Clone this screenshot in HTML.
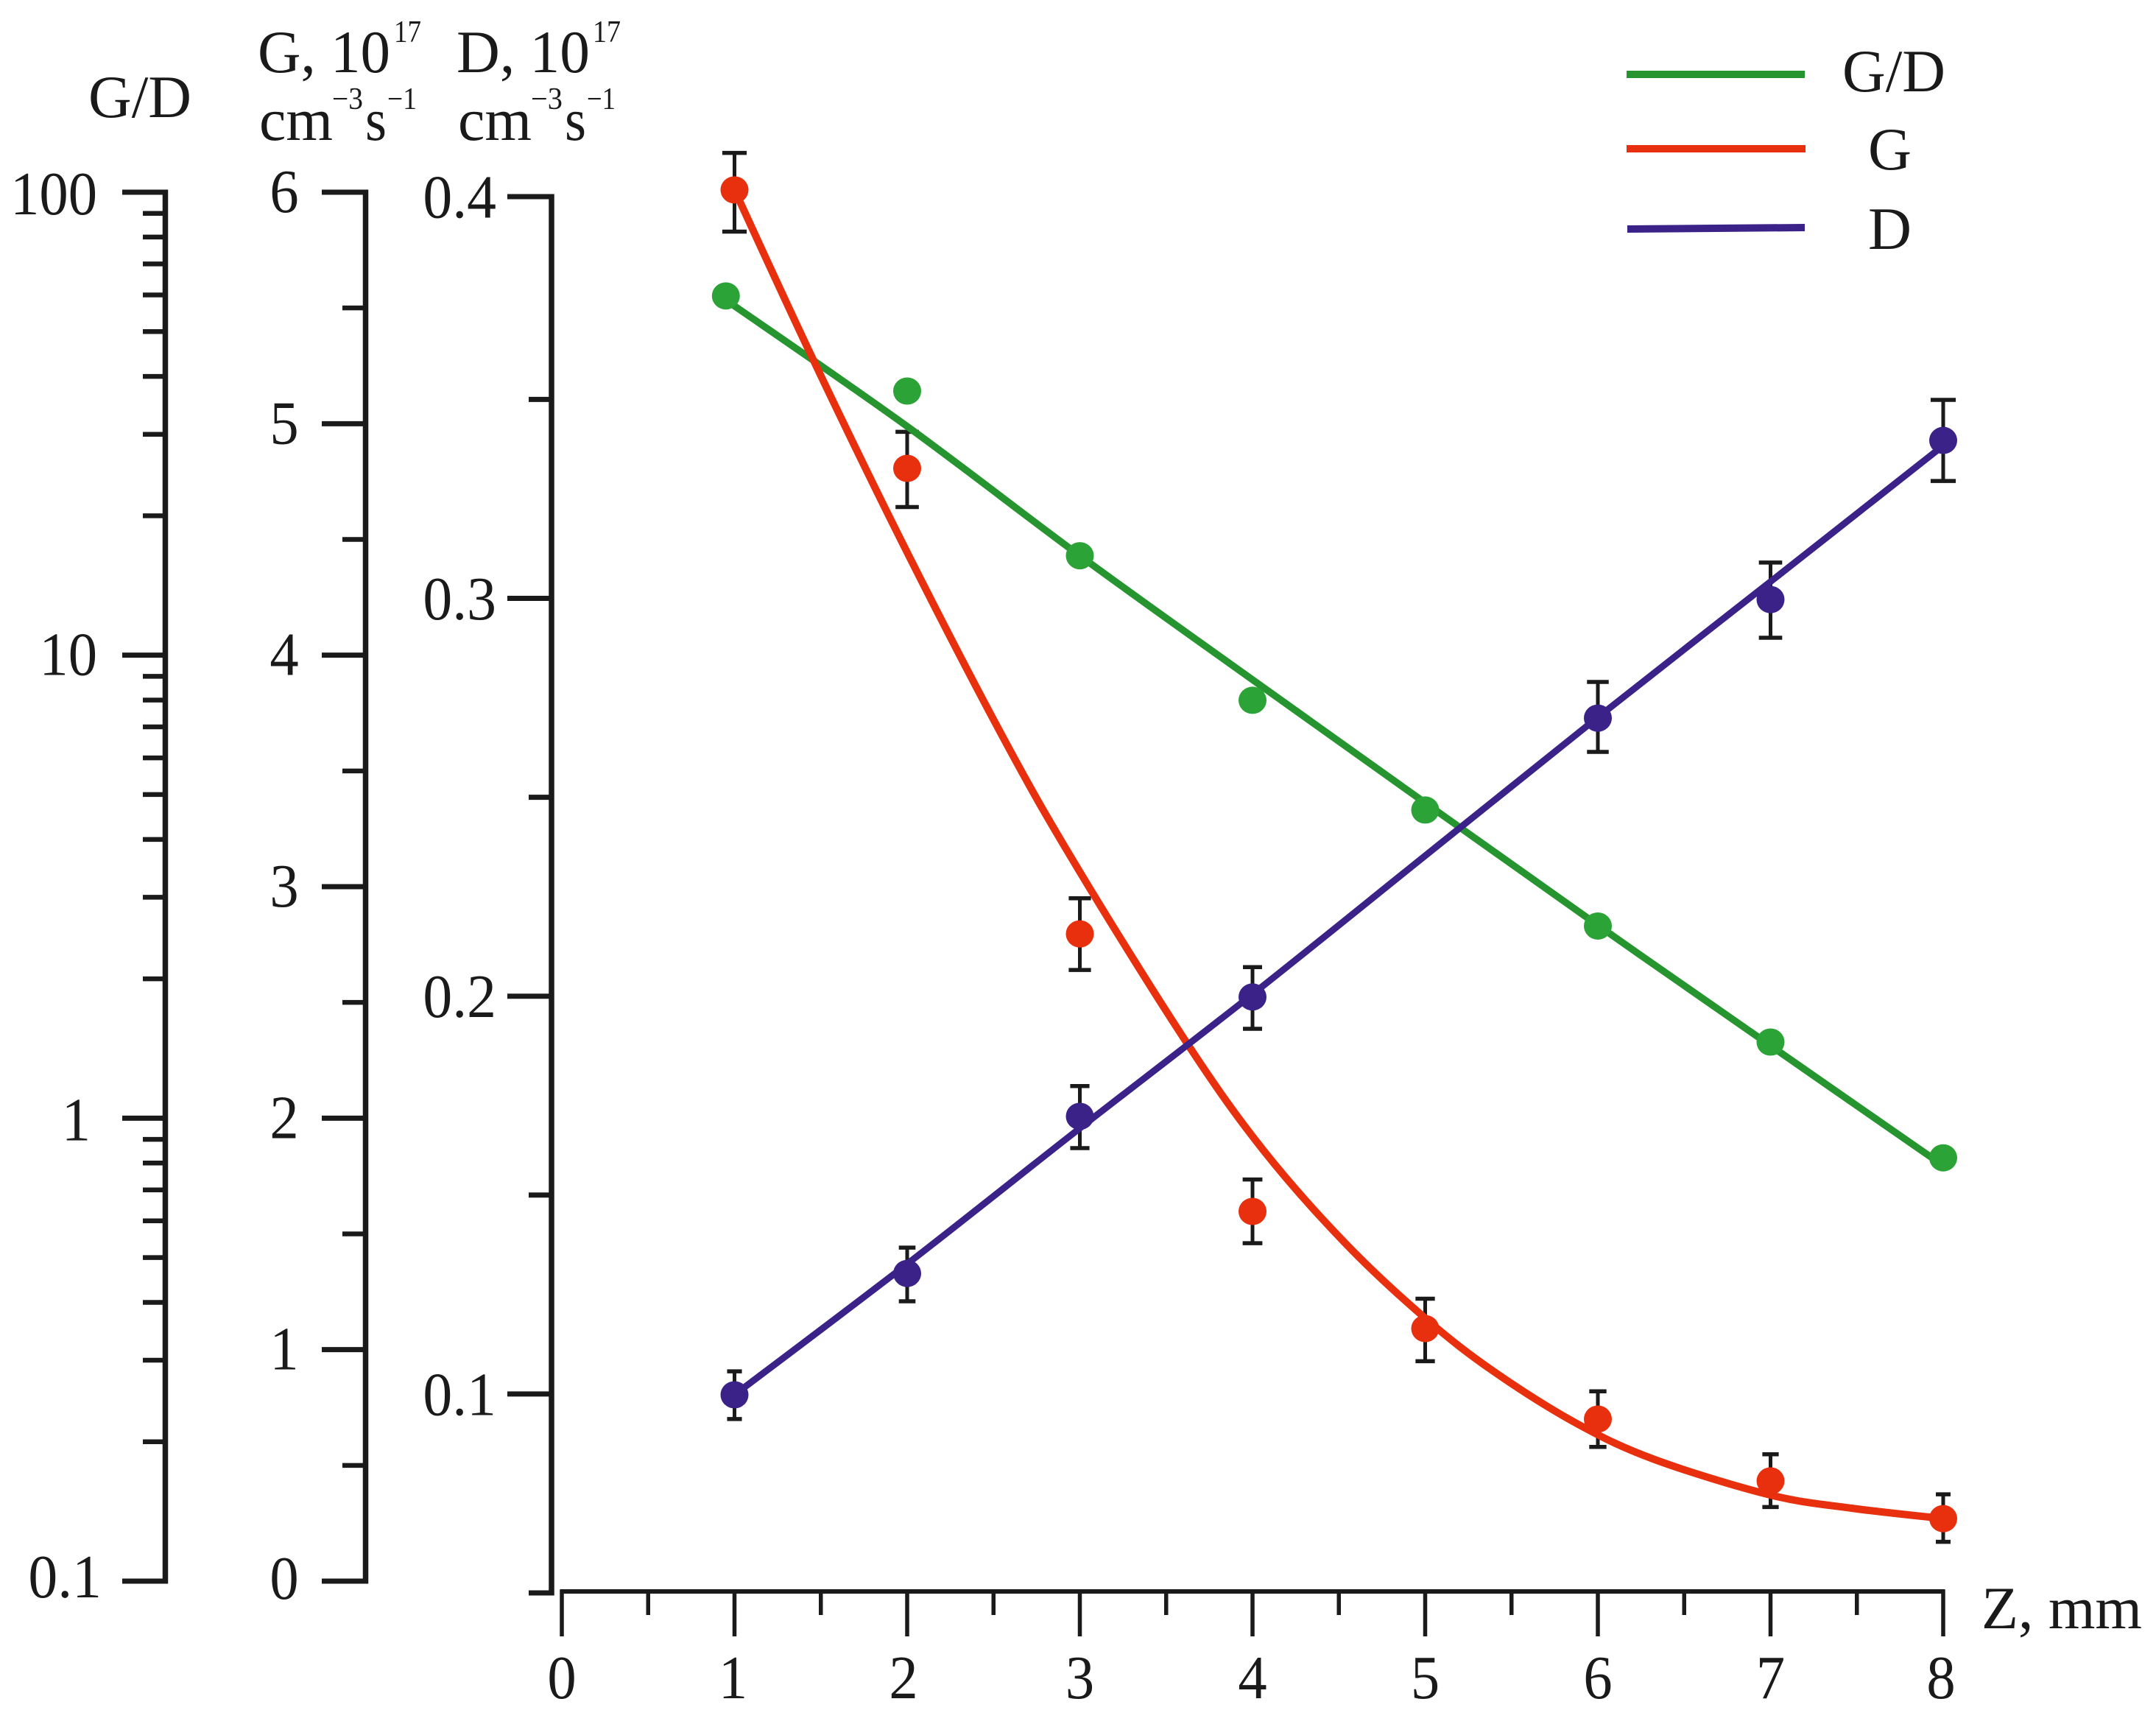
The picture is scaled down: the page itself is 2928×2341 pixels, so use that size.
<!DOCTYPE html>
<html lang="en">
<head>
<meta charset="utf-8">
<title>G, D and G/D versus Z</title>
<style>
html,body{margin:0;padding:0;background:#fff;}
svg{display:block;}
text{font-family:"Liberation Serif",serif;fill:#1a1a1a;}
</style>
</head>
<body>
<svg id="chart" xmlns="http://www.w3.org/2000/svg" width="2928" height="2341" viewBox="0 0 2928 2341">
  <rect width="2928" height="2341" fill="#ffffff"/>

  <g>
    <text x="120" y="159" font-size="82" textLength="140" lengthAdjust="spacingAndGlyphs">G/D</text>
    <g>
      <text x="350" y="98" font-size="82" textLength="180" lengthAdjust="spacingAndGlyphs">G, 10</text>
      <text x="535" y="57" font-size="42" textLength="37" lengthAdjust="spacingAndGlyphs">17</text>
      <text x="352" y="190" font-size="82" textLength="100" lengthAdjust="spacingAndGlyphs">cm</text>
      <text x="451" y="148" font-size="42" textLength="42" lengthAdjust="spacingAndGlyphs">−3</text>
      <text x="496" y="190" font-size="82" textLength="29" lengthAdjust="spacingAndGlyphs">s</text>
      <text x="526" y="148" font-size="42" textLength="40" lengthAdjust="spacingAndGlyphs">−1</text>
    </g>
    <g>
      <text x="620" y="98" font-size="82" textLength="181" lengthAdjust="spacingAndGlyphs">D, 10</text>
      <text x="805" y="57" font-size="42" textLength="38" lengthAdjust="spacingAndGlyphs">17</text>
      <text x="622" y="190" font-size="82" textLength="100" lengthAdjust="spacingAndGlyphs">cm</text>
      <text x="721" y="148" font-size="42" textLength="43" lengthAdjust="spacingAndGlyphs">−3</text>
      <text x="767" y="190" font-size="82" textLength="29" lengthAdjust="spacingAndGlyphs">s</text>
      <text x="797" y="148" font-size="42" textLength="39" lengthAdjust="spacingAndGlyphs">−1</text>
    </g>
    <text x="2691" y="2211" font-size="82" textLength="218" lengthAdjust="spacingAndGlyphs">Z, mm</text>
  </g>

  <g id="axes"></g>
  <g id="errors"></g>
  <g id="curves"></g>
  <g id="points"></g>

  <g>
    <g>
      <line x1="2209" y1="101" x2="2451" y2="101" stroke="#27952f" stroke-width="10"/>
      <text x="2502" y="124" font-size="82" textLength="140" lengthAdjust="spacingAndGlyphs">G/D</text>
    </g>
    <g>
      <line x1="2209" y1="202" x2="2452" y2="202" stroke="#e8300e" stroke-width="10"/>
      <text x="2537" y="230" font-size="82" textLength="59" lengthAdjust="spacingAndGlyphs">G</text>
    </g>
    <g>
      <line x1="2210" y1="311" x2="2451" y2="309" stroke="#3a2288" stroke-width="10"/>
      <text x="2537" y="338" font-size="82" textLength="59" lengthAdjust="spacingAndGlyphs">D</text>
    </g>
  </g>
</svg>

<script>
// ---- Data ----
const zPositions = [1, 2, 3, 4, 5, 6, 7, 8];

const gValues = [6.01, 4.807, 2.796, 1.597, 1.091, 0.70, 0.433, 0.27];
const gErrHigh = [6.17, 4.965, 2.95, 1.735, 1.22, 0.82, 0.548, 0.375];
const gErrLow = [5.83, 4.64, 2.64, 1.46, 0.95, 0.58, 0.32, 0.17];

const dZ = [1, 2, 3, 4, 6, 7, 8];
const dValues = [0.0998, 0.1303, 0.1698, 0.1998, 0.2699, 0.2997, 0.3397];
const dErrHigh = [0.1057, 0.1368, 0.1774, 0.2073, 0.279, 0.309, 0.3499];
const dErrLow = [0.0937, 0.1233, 0.1618, 0.1918, 0.2614, 0.2901, 0.3295];

const gdZ = [0.95, 2, 3, 4, 5, 6, 7, 8];
const gdValues = [59.7, 37.2, 16.4, 7.99, 4.63, 2.60, 1.46, 0.821];

const gdFitZ = [0.95, 2, 3, 4, 5, 6, 7, 7.97];
const gdFitValues = [58.5, 31.2, 16.4, 8.85, 4.80, 2.61, 1.434, 0.804];

const gFitZ = [1, 1.467, 2, 2.58, 3, 3.625, 4.06, 4.533, 5, 5.4, 5.885, 6.33, 7, 7.47, 8];
const gFitValues = [6.01, 5.259, 4.444, 3.611, 3.064, 2.319, 1.864, 1.463, 1.136, 0.904, 0.678, 0.525, 0.372, 0.315, 0.27];

const dFitZ = [1, 2, 3, 4, 5, 6, 7, 8];
const dFitValues = [0.0998, 0.1327, 0.1668, 0.2005, 0.2353, 0.2701, 0.3042, 0.3384];

const gdTickLabels = ["0.1", "1", "10", "100"];
const gTickLabels = ["0", "1", "2", "3", "4", "5", "6"];
const dTickLabels = ["0.1", "0.2", "0.3", "0.4"];
const zTickLabels = ["0", "1", "2", "3", "4", "5", "6", "7", "8"];
const gMinorTicks = [0.5, 1.5, 2.5, 3.5, 4.5, 5.5];
const dMinorTicks = [0.05, 0.15, 0.25, 0.35];
const zMinorTicks = [0.5, 1.5, 2.5, 3.5, 4.5, 5.5, 6.5, 7.5];
const gdMinorMultipliers = [2, 3, 4, 5, 6, 7, 8, 9];

// ---- Axis functions ----
function xScale(z) { return 763 + 234.5 * z; }
function yG(v) { return 2147 - 314.33 * v; }
function yD(v) { return v > 0.35 ? 542.5 - (v - 0.35) * 5510 : 2163 - (v - 0.05) * 5402; }
function yGD(v) { return 261 + (2 - Math.log10(v)) * 628.67; }

const NS = "http://www.w3.org/2000/svg";
const axesG = document.getElementById("axes");
const errorsG = document.getElementById("errors");
const curvesG = document.getElementById("curves");
const pointsG = document.getElementById("points");
const INK = "#1a1a1a";

function line(parent, x1, y1, x2, y2, color, w) {
  const el = document.createElementNS(NS, "line");
  el.setAttribute("x1", x1);
  el.setAttribute("y1", y1);
  el.setAttribute("x2", x2);
  el.setAttribute("y2", y2);
  el.setAttribute("stroke", color);
  el.setAttribute("stroke-width", w);
  parent.appendChild(el);
  return el;
}
function label(parent, str, x, y, anchor) {
  const el = document.createElementNS(NS, "text");
  el.textContent = str;
  el.setAttribute("x", x);
  el.setAttribute("y", y);
  el.setAttribute("font-size", 84);
  el.setAttribute("text-anchor", anchor);
  const w = str.replace(".", "").length * 39.3 + (str.includes(".") ? 21 : 0);
  el.setAttribute("textLength", w);
  el.setAttribute("lengthAdjust", "spacingAndGlyphs");
  parent.appendChild(el);
  return el;
}
function smoothPath(xs, ys) {
  let d = "M" + xs[0].toFixed(1) + " " + ys[0].toFixed(1);
  for (let i = 0; i < xs.length - 1; i++) {
    const x0 = xs[Math.max(i - 1, 0)], y0 = ys[Math.max(i - 1, 0)];
    const x1 = xs[i], y1 = ys[i], x2 = xs[i + 1], y2 = ys[i + 1];
    const x3 = xs[Math.min(i + 2, xs.length - 1)], y3 = ys[Math.min(i + 2, xs.length - 1)];
    d += " C" + (x1 + (x2 - x0) / 6).toFixed(1) + " " + (y1 + (y2 - y0) / 6).toFixed(1) +
         " " + (x2 - (x3 - x1) / 6).toFixed(1) + " " + (y2 - (y3 - y1) / 6).toFixed(1) +
         " " + x2.toFixed(1) + " " + y2.toFixed(1);
  }
  return d;
}

// ---- G/D log axis ----
const gdSpine = line(axesG, 224.5, yGD(100) - 3.5, 224.5, yGD(0.1) + 3.5, INK, 7.5);


gdTickLabels.forEach(function (s) {
  const v = parseFloat(s);
  const y = yGD(v);
  const t = line(axesG, 166, y, 224, y, INK, 7);
  
  
  const right = s === "0.1" ? 138 : s === "1" ? 123 : 132;
  const drop = s === "0.1" ? 22 : s === "10" ? 27 : 30;
  const l = label(axesG, s, right, y + drop, "end");
  
  
  if (v < 100) {
    gdMinorMultipliers.forEach(function (m) {
      const my = yGD(v * m);
      const mt = line(axesG, 194, my, 224, my, INK, 6.5);
      
      
    });
  }
});

// ---- G linear axis ----
const gSpine = line(axesG, 496.5, yG(6) - 3.5, 496.5, yG(0) + 3.5, INK, 7.5);


gTickLabels.forEach(function (s) {
  const v = parseFloat(s);
  const y = yG(v);
  const t = line(axesG, 437, y, 496, y, INK, 7);
  
  
  const l = label(axesG, s, 386, y + (v === 0 ? 24 : 27), "middle");
  
  
});
gMinorTicks.forEach(function (v) {
  const mt = line(axesG, 465, yG(v), 496, yG(v), INK, 6.5);
  
  
});

// ---- D linear axis ----
const dSpine = line(axesG, 749, yD(0.4) - 3.5, 749, yD(0.05) + 3.5, INK, 7.5);


dTickLabels.forEach(function (s) {
  const v = parseFloat(s);
  const y = yD(v);
  const t = line(axesG, 689, y, 749, y, INK, 7);
  
  
  const l = label(axesG, s, 674, y + 28.5, "end");
  
  
});
dMinorTicks.forEach(function (v) {
  const mt = line(axesG, 718, yD(v), 749, yD(v), INK, 7);
  
  
});

// ---- Z axis ----
const zSpine = line(axesG, xScale(0) - 2.5, 2161, xScale(8) + 2.5, 2161, INK, 6);


zTickLabels.forEach(function (s) {
  const v = parseFloat(s);
  const t = line(axesG, xScale(v), 2159, xScale(v), 2222, INK, 5.5);
  
  
  const shift = v === 8 ? -3 : v === 2 ? -5 : v === 1 ? -2 : 0;
  const l = label(axesG, s, xScale(v) + shift, 2306, "middle");
  
  
});
zMinorTicks.forEach(function (v) {
  const mt = line(axesG, xScale(v), 2159, xScale(v), 2193, INK, 5.5);
  
  
});

// ---- Error bars: the cap width grows with the bar length, as in the source ----
function errorBar(z, hiY, loY, name) {
  const x = xScale(z);
  const half = Math.abs(loY - hiY) * 0.155;
  const stem = line(errorsG, x, hiY, x, loY, INK, 5);
  
  
  const cap1 = line(errorsG, x - half, hiY, x + half, hiY, INK, 5.5);
  
  
  const cap2 = line(errorsG, x - half, loY, x + half, loY, INK, 5.5);
  
  
}
zPositions.forEach(function (z, i) {
  errorBar(z, yG(gErrHigh[i]), yG(gErrLow[i]), "g");
});
dZ.forEach(function (z, i) {
  errorBar(z, yD(dErrHigh[i]), yD(dErrLow[i]), "d");
});

// ---- Curves ----
function curve(zs, vals, yFn, color, width, name) {
  const p = document.createElementNS(NS, "path");
  p.setAttribute("d", smoothPath(zs.map(xScale), vals.map(yFn)));
  p.setAttribute("fill", "none");
  p.setAttribute("stroke", color);
  p.setAttribute("stroke-width", width);
  p.setAttribute("stroke-linejoin", "round");
  
  
  curvesG.appendChild(p);
}
curve(gdFitZ, gdFitValues, yGD, "#27952f", 9.5, "gd-fit-curve");
curve(gFitZ, gFitValues, yG, "#e8300e", 10, "g-fit-curve");
curve(dFitZ, dFitValues, yD, "#3a2288", 9, "d-fit-curve");

// ---- Points ----
function dot(z, y, color, name) {
  const c = document.createElementNS(NS, "ellipse");
  c.setAttribute("cx", xScale(z));
  c.setAttribute("cy", y);
  c.setAttribute("rx", 19);
  c.setAttribute("ry", 18.5);
  c.setAttribute("fill", color);
  
  
  pointsG.appendChild(c);
}
gdZ.forEach(function (z, i) { dot(z, yGD(gdValues[i]), "#2ca336", "gd-point"); });
zPositions.forEach(function (z, i) { dot(z, yG(gValues[i]), "#e8300e", "g-point"); });
dZ.forEach(function (z, i) { dot(z, yD(dValues[i]), "#3a2288", "d-point"); });
</script>
</body>
</html>
